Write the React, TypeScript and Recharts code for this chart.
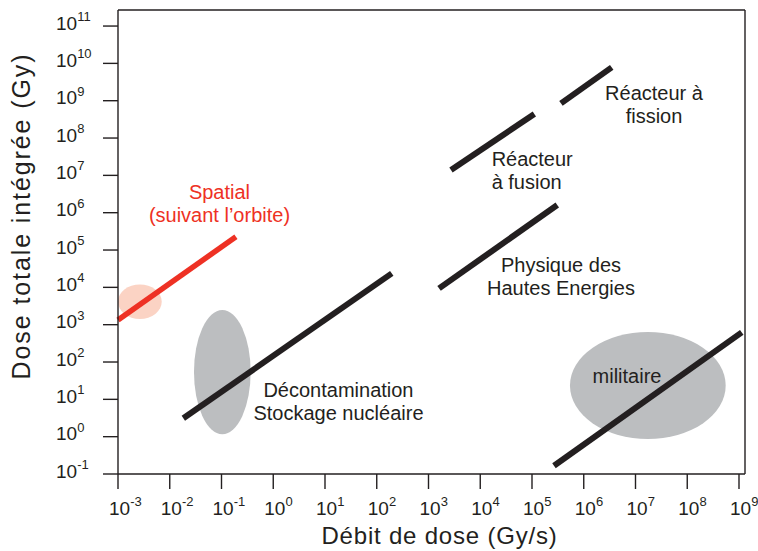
import React from 'react';
import {
  ComposedChart,
  XAxis,
  YAxis,
  ReferenceLine,
  ReferenceArea,
  ReferenceDot,
  Label,
} from 'recharts';

// ---------- data ----------
const xTicks = [1e-3, 1e-2, 1e-1, 1e0, 1e1, 1e2, 1e3, 1e4, 1e5, 1e6, 1e7, 1e8, 1e9];
const yTicks = [1e-1, 1e0, 1e1, 1e2, 1e3, 1e4, 1e5, 1e6, 1e7, 1e8, 1e9, 1e10, 1e11];
const xDomain = [1e-3, Math.pow(10, 9.116)];
const yDomain = [1e-1, Math.pow(10, 11.43)];

// line segments (dose rate Gy/s, total dose Gy)
const spatialSegment = [{ x: 1e-3, y: 1330 }, { x: 0.19, y: 2.27e5 }];
const decontaminationSegment = [{ x: 0.0183, y: 3.1 }, { x: 195, y: 2.37e4 }];
const highEnergySegment = [{ x: 1600, y: 9400 }, { x: 3.08e5, y: 1.6e6 }];
const fusionSegment = [{ x: 2720, y: 1.39e7 }, { x: 1.11e5, y: 4.4e8 }];
const fissionSegment = [{ x: 3.63e5, y: 8.5e8 }, { x: 3.47e6, y: 7.8e9 }];
const militarySegment = [{ x: 2.66e5, y: 0.166 }, { x: 1.13e9, y: 624 }];

// regions (ellipses inscribed in data boxes)
const spatialRegion = { x1: 1.0e-3, x2: 7.0e-3, y1: 1.42e3, y2: 1.2e4 };
const decontaminationRegion = { x1: 0.0294, x2: 0.366, y1: 1.17, y2: 2466 };
const militaryRegion = { x1: 5.42e5, x2: 5.53e8, y1: 0.863, y2: 635 };

// annotation anchors (first-line baseline, in data units)
const spatialLabel = { x: 0.0914, y: 2.28e6, lines: ['Spatial', '(suivant l\u2019orbite)'] };
const decontaminationLabel = { x: 18.2, y: 11.3, lines: ['Décontamination', 'Stockage nucléaire'] };
const militaryLabel = { x: 6.86e6, y: 26.8, lines: ['militaire'] };
const highEnergyLabel = { x: 3.63e5, y: 2.62e4, lines: ['Physique des', 'Hautes Energies'] };
const fusionLabel = { x: 1.66e4, y: 1.78e7, lines: ['Réacteur', 'à fusion'] };
const fissionLabel = { x: 2.28e7, y: 1.07e9, lines: ['Réacteur à', 'fission'] };

const xTitle = 'Débit de dose (Gy/s)';
const yTitle = 'Dose totale intégrée (Gy)';

// ---------- styles ----------
const FONT = '"Liberation Sans", Arial, Helvetica, sans-serif';
const INK = '#231f20';
const RED = '#ee3124';
const GREY = '#bcbec0';
const PINK = '#fbd3c4';

const exp = (v: number) => String(Math.round(Math.log10(v)));

function XTick(props: any) {
  const { x, y, payload } = props;
  return (
    <text x={x - 9} y={y + 25.5} fill={INK} fontFamily={FONT} fontSize={19}>
      10
      <tspan dy={-8.5} fontSize={13}>
        {exp(payload.value)}
      </tspan>
    </text>
  );
}

function YTick(props: any) {
  const { x, y, payload } = props;
  return (
    <text x={x - 47} y={y + 3.5} fill={INK} fontFamily={FONT} fontSize={19}>
      10
      <tspan dy={-8.5} fontSize={13}>
        {exp(payload.value)}
      </tspan>
    </text>
  );
}

const ellipseShape = (fill: string) => (props: any) => {
  const { x, y, width, height } = props;
  return (
    <ellipse
      cx={x + width / 2}
      cy={y + height / 2}
      rx={Math.abs(width) / 2}
      ry={Math.abs(height) / 2}
      fill={fill}
      stroke="none"
    />
  );
};

const textShape = (lines: string[], color: string, anchor: string) => (props: any) => {
  const { cx, cy } = props;
  return (
    <text
      x={cx}
      y={cy}
      fill={color}
      fontFamily={FONT}
      fontSize={20}
      textAnchor={anchor as any}
    >
      {lines.map((l, i) => (
        <tspan key={i} x={cx} dy={i === 0 ? 0 : 23}>
          {l}
        </tspan>
      ))}
    </text>
  );
};

export default function App() {
  const segLine = (seg: { x: number; y: number }[], color: string, w: number, key: string) => (
    <ReferenceLine
      key={key}
      segment={seg as any}
      stroke={color}
      strokeWidth={w}
      strokeLinecap="butt"
      ifOverflow="visible"
    />
  );
  const region = (r: any, fill: string, key: string) => (
    <ReferenceArea
      key={key}
      x1={r.x1}
      x2={r.x2}
      y1={r.y1}
      y2={r.y2}
      ifOverflow="visible"
      shape={ellipseShape(fill)}
    />
  );
  const annot = (a: any, color: string, anchor: string, key: string) => (
    <ReferenceDot
      key={key}
      x={a.x}
      y={a.y}
      r={0}
      ifOverflow="visible"
      shape={textShape(a.lines, color, anchor)}
    />
  );

  return (
    <div style={{ position: 'absolute', left: 0, top: 0 }}>
      <ComposedChart
        width={758}
        height={551}
        data={[]}
        margin={{ top: 10, right: 13, bottom: 0, left: 0 }}
      >
        <XAxis
          dataKey="x"
          type="number"
          scale="log"
          domain={xDomain}
          allowDataOverflow
          ticks={xTicks}
          interval={0}
          height={77}
          tickSize={15}
          tickMargin={0}
          axisLine={{ stroke: INK, strokeWidth: 1.4 }}
          tickLine={{ stroke: INK, strokeWidth: 1.4 }}
          tick={<XTick />}
        >
          <Label
            content={(p: any) => {
              const vb = p.viewBox || { x: 118, y: 474, width: 627 };
              return (
                <text
                  x={vb.x + vb.width / 2 + 8}
                  y={vb.y + 70}
                  textAnchor="middle"
                  fill={INK}
                  fontFamily={FONT}
                  fontSize={24}
                  letterSpacing={0.8}
                >
                  {xTitle}
                </text>
              );
            }}
          />
        </XAxis>
        <YAxis
          type="number"
          scale="log"
          domain={yDomain}
          allowDataOverflow
          ticks={yTicks}
          interval={0}
          width={118}
          tickSize={15}
          tickMargin={0}
          axisLine={{ stroke: INK, strokeWidth: 1.4 }}
          tickLine={{ stroke: INK, strokeWidth: 1.4 }}
          tick={<YTick />}
        >
          <Label
            content={(p: any) => {
              const vb = p.viewBox || { x: 0, y: 10, width: 118, height: 464 };
              const cx = vb.x + 30;
              const cy = vb.y + 206;
              return (
                <text
                  x={cx}
                  y={cy}
                  transform={`rotate(-90 ${cx} ${cy})`}
                  textAnchor="middle"
                  fill={INK}
                  fontFamily={FONT}
                  fontSize={25}
                  letterSpacing={1.9}
                >
                  {yTitle}
                </text>
              );
            }}
          />
        </YAxis>

        {region(spatialRegion, PINK, 'r1')}
        {region(decontaminationRegion, GREY, 'r2')}
        {region(militaryRegion, GREY, 'r3')}

        <ReferenceLine y={yDomain[1]} stroke={INK} strokeWidth={1.4} ifOverflow="visible" />
        <ReferenceLine x={xDomain[1]} stroke={INK} strokeWidth={1.4} ifOverflow="visible" />

        {segLine(spatialSegment, RED, 5.5, 's1')}
        {segLine(decontaminationSegment, INK, 6, 's2')}
        {segLine(highEnergySegment, INK, 6, 's3')}
        {segLine(fusionSegment, INK, 6, 's4')}
        {segLine(fissionSegment, INK, 6, 's5')}
        {segLine(militarySegment, INK, 6, 's6')}

        {annot(spatialLabel, RED, 'middle', 'a1')}
        {annot(decontaminationLabel, INK, 'middle', 'a2')}
        {annot(militaryLabel, INK, 'middle', 'a3')}
        {annot(highEnergyLabel, INK, 'middle', 'a4')}
        {annot(fusionLabel, INK, 'start', 'a5')}
        {annot(fissionLabel, INK, 'middle', 'a6')}
      </ComposedChart>
    </div>
  );
}
